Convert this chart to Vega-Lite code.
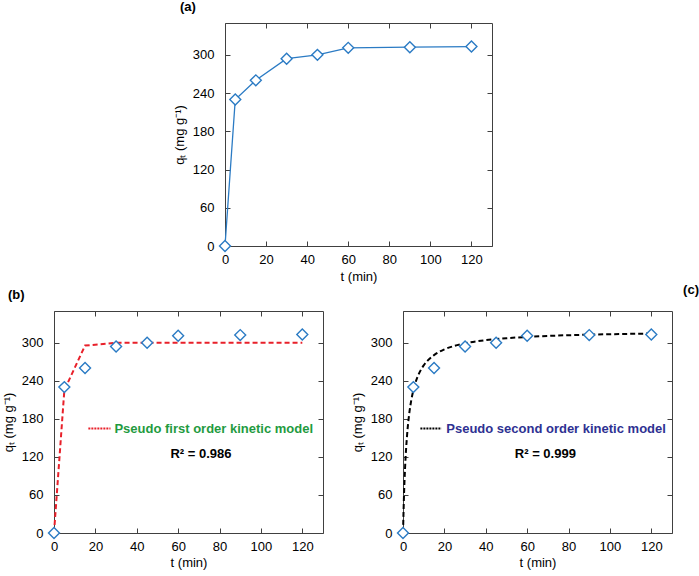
{
  "$schema": "https://vega.github.io/schema/vega-lite/v6.json",
  "padding": {"top": 0, "left": 1, "right": 2, "bottom": 2},
  "background": "white",
  "datasets": {
    "obs": [
      {"t": 0, "q": 0}, {"t": 5, "q": 230}, {"t": 15, "q": 260}, {"t": 30, "q": 294},
      {"t": 45, "q": 300}, {"t": 60, "q": 311}, {"t": 90, "q": 312}, {"t": 120, "q": 313}
    ],
    "pfo": [
      {"t": 0, "q": 0}, {"t": 5, "q": 225}, {"t": 15, "q": 295.5}, {"t": 30, "q": 299.9},
      {"t": 45, "q": 300}, {"t": 60, "q": 300}, {"t": 90, "q": 300}, {"t": 120, "q": 300}
    ],
    "pso": [
      {"t": 0, "q": 0}, {"t": 0.5, "q": 61.3}, {"t": 1, "q": 102.8}, {"t": 2, "q": 155.6},
      {"t": 3, "q": 187.8}, {"t": 4, "q": 209.4}, {"t": 5, "q": 225.0}, {"t": 6, "q": 236.7},
      {"t": 8, "q": 253.2}, {"t": 10, "q": 264.2}, {"t": 12, "q": 272.1}, {"t": 15, "q": 280.5},
      {"t": 20, "q": 289.5}, {"t": 25, "q": 295.1}, {"t": 30, "q": 299.0}, {"t": 40, "q": 304.0},
      {"t": 50, "q": 307.1}, {"t": 60, "q": 309.1}, {"t": 75, "q": 311.3}, {"t": 90, "q": 312.7},
      {"t": 105, "q": 313.7}, {"t": 120, "q": 314.5}
    ],
    "ann_b": [
      {"x1": 16.6, "x2": 27.3, "y": 164.6, "tx": 29.2, "label": "Pseudo first order kinetic model", "rx": 71, "ry": 125, "r2": "R² = 0.986"}
    ],
    "ann_c": [
      {"x1": 8.4, "x2": 18.6, "y": 164.6, "tx": 20.9, "label": "Pseudo second order kinetic model", "rx": 68.8, "ry": 125, "r2": "R² = 0.999"}
    ],
    "empty": [{"k": 1}]
  },
  "spacing": -1,
  "vconcat": [
    {
      "spacing": 117,
      "hconcat": [
        {
          "width": 1,
          "height": 223,
          "view": {"stroke": null},
          "data": {"name": "empty"},
          "mark": {"type": "text", "text": ""},
          "encoding": {}
        },
        {
          "width": 267,
          "height": 223,
          "title": {"text": "(a)", "anchor": "start", "frame": "group", "dx": -45, "offset": 9},
          "data": {"name": "obs"},
          "layer": [
            {
              "mark": {"type": "line", "color": "#2B7BC4", "strokeWidth": 1.3},
              "encoding": {
                "x": {"field": "t", "type": "quantitative", "scale": {"domain": [0, 125]},
                      "axis": {"orient": "bottom", "values": [0, 20, 40, 60, 80, 100, 120], "title": "t (min)", "labelPadding": 12, "titlePadding": 4, "labelFlush": false}},
                "y": {"field": "q", "type": "quantitative", "scale": {"domain": [0, 350]},
                      "axis": {"orient": "left", "values": [0, 60, 120, 180, 240, 300], "title": "qₜ (mg g⁻¹)", "labelPadding": 16, "titlePadding": 6}}
              }
            },
            {
              "mark": {"type": "point", "shape": "diamond", "size": 120, "filled": true, "fill": "white", "stroke": "#2B7BC4", "strokeWidth": 1.4, "opacity": 1},
              "encoding": {
                "x": {"field": "t", "type": "quantitative",
                      "axis": {"orient": "top", "values": [0, 20, 40, 60, 80, 100, 120], "labels": false, "title": null}},
                "y": {"field": "q", "type": "quantitative",
                      "axis": {"orient": "right", "values": [0, 60, 120, 180, 240, 300], "labels": false, "title": null}}
              }
            }
          ],
          "resolve": {"axis": {"x": "independent", "y": "independent"}}
        }
      ]
    },
    {
      "spacing": 26,
      "hconcat": [
        {
          "width": 269,
          "height": 222,
          "title": {"text": "(b)", "anchor": "start", "frame": "group", "dx": -46, "offset": 9},
          "layer": [
            {
              "data": {"name": "pfo"},
              "mark": {"type": "line", "color": "#E8202A", "strokeDash": [5, 3], "strokeWidth": 2},
              "encoding": {
                "x": {"field": "t", "type": "quantitative", "scale": {"domain": [0, 125]},
                      "axis": {"orient": "bottom", "values": [0, 20, 40, 60, 80, 100, 120], "title": "t (min)", "labelPadding": 12, "titlePadding": 3, "labelFlush": false}},
                "y": {"field": "q", "type": "quantitative", "scale": {"domain": [0, 350]},
                      "axis": {"orient": "left", "values": [0, 60, 120, 180, 240, 300], "title": "qₜ (mg g⁻¹)", "labelPadding": 16, "titlePadding": 6}}
              }
            },
            {
              "data": {"name": "ann_b"},
              "mark": {"type": "rule", "color": "#E8202A", "strokeDash": [2, 1], "strokeWidth": 2},
              "encoding": {
                "x": {"field": "x1", "type": "quantitative", "axis": null},
                "x2": {"field": "x2"},
                "y": {"field": "y", "type": "quantitative", "axis": null}
              }
            },
            {
              "data": {"name": "ann_b"},
              "mark": {"type": "text", "align": "left", "baseline": "middle", "font": "Liberation Sans", "fontSize": 13, "fontWeight": "bold", "color": "#1F9B3F"},
              "encoding": {
                "x": {"field": "tx", "type": "quantitative", "axis": null},
                "y": {"field": "y", "type": "quantitative", "axis": null},
                "text": {"field": "label"}
              }
            },
            {
              "data": {"name": "ann_b"},
              "mark": {"type": "text", "align": "center", "baseline": "middle", "font": "Liberation Sans", "fontSize": 13, "fontWeight": "bold", "color": "black"},
              "encoding": {
                "x": {"field": "rx", "type": "quantitative", "axis": null},
                "y": {"field": "ry", "type": "quantitative", "axis": null},
                "text": {"field": "r2"}
              }
            },
            {
              "data": {"name": "obs"},
              "mark": {"type": "point", "shape": "diamond", "size": 120, "filled": true, "fill": "white", "stroke": "#2B7BC4", "strokeWidth": 1.4, "opacity": 1},
              "encoding": {
                "x": {"field": "t", "type": "quantitative",
                      "axis": {"orient": "top", "values": [0, 20, 40, 60, 80, 100, 120], "labels": false, "title": null}},
                "y": {"field": "q", "type": "quantitative",
                      "axis": {"orient": "right", "values": [0, 60, 120, 180, 240, 300], "labels": false, "title": null}}
              }
            }
          ],
          "resolve": {"axis": {"x": "independent", "y": "independent"}}
        },
        {
          "width": 269,
          "height": 222,
          "title": {"text": "(c)", "anchor": "end", "frame": "group", "dx": 27, "offset": 14},
          "layer": [
            {
              "data": {"name": "pso"},
              "mark": {"type": "line", "color": "black", "strokeDash": [5, 3], "strokeWidth": 2, "interpolate": "monotone"},
              "encoding": {
                "x": {"field": "t", "type": "quantitative", "scale": {"domain": [0, 125]},
                      "axis": {"orient": "bottom", "values": [0, 20, 40, 60, 80, 100, 120], "title": "t (min)", "labelPadding": 12, "titlePadding": 3, "labelFlush": false}},
                "y": {"field": "q", "type": "quantitative", "scale": {"domain": [0, 350]},
                      "axis": {"orient": "left", "values": [0, 60, 120, 180, 240, 300], "title": "qₜ (mg g⁻¹)", "labelPadding": 16, "titlePadding": 6}}
              }
            },
            {
              "data": {"name": "ann_c"},
              "mark": {"type": "rule", "color": "black", "strokeDash": [2, 1], "strokeWidth": 2},
              "encoding": {
                "x": {"field": "x1", "type": "quantitative", "axis": null},
                "x2": {"field": "x2"},
                "y": {"field": "y", "type": "quantitative", "axis": null}
              }
            },
            {
              "data": {"name": "ann_c"},
              "mark": {"type": "text", "align": "left", "baseline": "middle", "font": "Liberation Sans", "fontSize": 13, "fontWeight": "bold", "color": "#2E3192"},
              "encoding": {
                "x": {"field": "tx", "type": "quantitative", "axis": null},
                "y": {"field": "y", "type": "quantitative", "axis": null},
                "text": {"field": "label"}
              }
            },
            {
              "data": {"name": "ann_c"},
              "mark": {"type": "text", "align": "center", "baseline": "middle", "font": "Liberation Sans", "fontSize": 13, "fontWeight": "bold", "color": "black"},
              "encoding": {
                "x": {"field": "rx", "type": "quantitative", "axis": null},
                "y": {"field": "ry", "type": "quantitative", "axis": null},
                "text": {"field": "r2"}
              }
            },
            {
              "data": {"name": "obs"},
              "mark": {"type": "point", "shape": "diamond", "size": 120, "filled": true, "fill": "white", "stroke": "#2B7BC4", "strokeWidth": 1.4, "opacity": 1},
              "encoding": {
                "x": {"field": "t", "type": "quantitative",
                      "axis": {"orient": "top", "values": [0, 20, 40, 60, 80, 100, 120], "labels": false, "title": null}},
                "y": {"field": "q", "type": "quantitative",
                      "axis": {"orient": "right", "values": [0, 60, 120, 180, 240, 300], "labels": false, "title": null}}
              }
            }
          ],
          "resolve": {"axis": {"x": "independent", "y": "independent"}}
        }
      ]
    }
  ],
  "config": {
    "view": {"stroke": "#404040", "strokeWidth": 1},
    "axis": {
      "domain": false,
      "grid": false,
      "tickSize": -5,
      "tickColor": "#404040",
      "tickWidth": 1,
      "labelFont": "Liberation Sans",
      "labelFontSize": 13,
      "labelColor": "black",
      "titleFont": "Liberation Sans",
      "titleFontSize": 13,
      "titleFontWeight": "normal",
      "titleColor": "black"
    },
    "title": {"font": "Liberation Sans", "fontSize": 13, "fontWeight": "bold", "color": "black"}
  }
}
